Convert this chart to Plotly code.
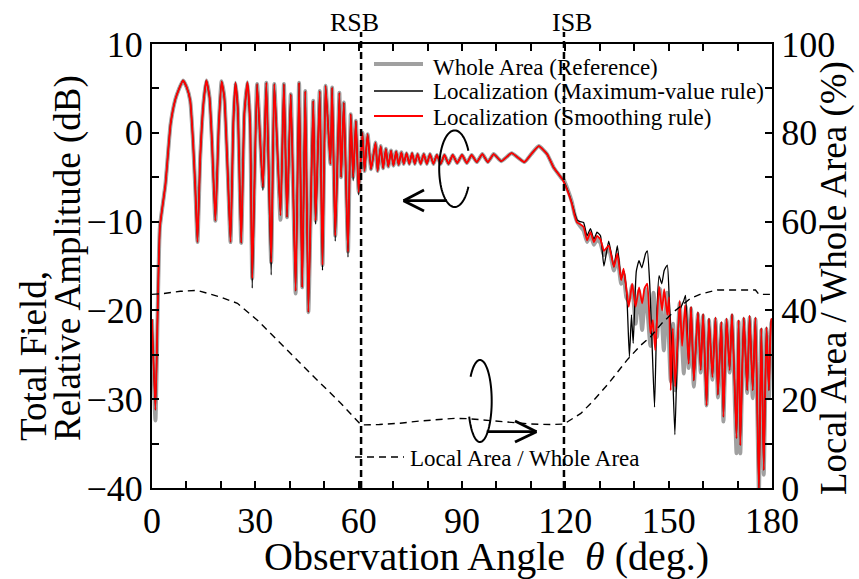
import numpy as np
import plotly.graph_objects as go

# ---------------- data ----------------
# common part of the total-field curves (0 .. ~119 deg), smoothing rule
theta_head = [0, 1.0, 1.7, 2.3, 3.9, 5.4, 6.8, 7.8, 9.0, 10.1, 11.1, 11.9, 12.6, 13.2,
              14.0, 15.0, 15.8, 16.7, 17.4, 18.4, 19.4, 20.2, 21.0, 22.0, 22.8, 23.6,
              24.2, 24.9, 25.9, 26.8, 27.7, 28.5, 29.1, 30.5, 32.2, 33.2, 34.6, 35.5,
              37.3, 38.3, 39.2, 40.3, 41.7, 42.7, 43.6, 44.5, 45.4, 46.8, 47.5, 48.7,
              49.5, 50.4, 51.8, 52.3, 53.2, 54.4, 54.9, 55.7, 56.9, 57.7, 58.4, 59.2,
              60.0, 61.1, 61.7, 62.6, 63.6, 64.9, 65.5, 66.4, 67.1, 67.9, 68.6, 69.4,
              70.1, 70.9, 71.6, 72.4, 73.1, 73.9, 74.7, 75.5, 76.3, 77.1, 78.0, 78.9,
              79.8, 80.7, 81.7, 82.7, 83.8, 84.9, 86.1, 87.3, 88.6, 90.0, 91.4, 92.8,
              94.3, 95.9, 97.5, 99.2, 101.4, 104.4, 108.1, 110.1, 112.3, 114.7, 116.6,
              119.1]
db_head = [-21.0, -31.2, -19.0, -10.6, -5.8, 1.0, 3.8, 4.9, 5.9, 5.1, 3.6, -0.9, -6.5, -12.3,
           -2.8, 3.6, 5.9, 4.0, -0.9, -9.9, 1.0, 5.8, 4.0, -4.6, -12.3, 1.0,
           5.65, 2.8, -12.4, 2.1, 5.7, 1.0, -16.4, 5.5, -6.1, 5.65, -14.6, 5.5,
           -9.3, 5.5, -9.5, 4.35, -17.8, 5.65, -17.4, 4.7, -20.2, 3.6, -9.9, 4.7,
           -14.9, 5.3, -3.5, 5.1, -11.6, 4.5, -5.0, 3.4, -13.4, 2.1, -5.0, 1.35,
           -6.7, 0.0, -4.3, -0.15, -4.1, -1.1, -4.3, -1.5, -4.0, -1.8, -3.8, -2.0,
           -3.7, -2.1, -3.6, -2.2, -3.5, -2.3, -3.5, -2.3, -3.5, -2.4, -3.5, -2.4,
           -3.5, -2.4, -3.5, -2.5, -3.5, -2.5, -3.5, -2.5, -3.4, -2.5, -3.4, -2.5,
           -3.3, -2.4, -3.3, -2.4, -3.2, -2.3, -3.3, -2.4, -1.5, -2.4, -3.9,
           -5.2]
# nulls where the other two curves differ from the smoothing-rule curve
ref_head_nulls = {1.0: -32.4, 37.3: -9.8, 41.7: -18.1}
max_head_nulls = {29.1: -17.5, 32.2: -6.5, 34.6: -16.0, 47.5: -10.3, 49.5: -15.5,
                  53.2: -12.2, 56.9: -14.0, 58.4: -5.4, 60.0: -7.0}

# lit region beyond the ISB: Localization (Smoothing rule)
theta_tail_smooth = [119.5, 120.7, 121.9, 122.7, 123.4, 124.3, 125.3, 126.3, 127.3, 128.3,
                     129.2, 130.2, 131.2, 132.6, 134.1, 135.1, 136.2, 136.9, 137.7, 138.4,
                     139.4, 140.4, 141.4, 142.3, 143.0, 143.8, 144.7, 145.4, 146.1, 147.2,
                     148.1, 148.7, 149.6, 150.1, 150.6, 151.2, 151.9, 153.2, 153.9, 154.8,
                     155.8, 156.5, 157.3, 158.5, 159.3, 160.0, 161.0, 161.7, 162.7, 163.6,
                     164.3, 165.3, 165.9, 166.8, 167.7, 168.4, 169.7, 170.3, 170.8, 171.8,
                     172.8, 173.5, 174.4, 175.2, 176.2, 176.9, 177.6, 178.4, 179.1, 179.8,
                     180.0]
db_tail_smooth = [-5.5, -6.6, -8.0, -9.3, -10.1, -10.3, -10.6, -12.1, -11.2, -12.3,
                  -11.6, -12.0, -13.3, -12.7, -15.1, -13.6, -16.6, -15.3, -17.5, -19.6,
                  -17.0, -19.6, -17.4, -19.2, -17.5, -17.0, -22.6, -21.1, -24.5, -17.3,
                  -20.0, -17.6, -20.5, -18.5, -29.0, -22.0, -28.6, -18.9, -24.0, -19.4,
                  -26.0, -19.6, -27.9, -20.2, -26.7, -20.4, -30.7, -20.9, -27.5, -20.8,
                  -29.5, -21.3, -32.0, -20.9, -26.7, -20.4, -34.4, -21.1, -35.2, -20.8,
                  -29.0, -20.6, -29.0, -20.8, -40.5, -22.0, -38.0, -21.9, -29.0, -21.0,
                  -21.0]

# Whole Area (Reference)
theta_tail_ref = [119.5, 120.7, 121.9, 122.7, 123.4, 124.3, 125.3, 126.3, 127.3, 128.3,
                  129.2, 130.2, 131.2, 132.6, 134.1, 135.1, 136.2, 136.9, 137.7, 138.4,
                  139.4, 140.4, 141.4, 142.3, 143.3, 144.7, 145.6, 146.6, 147.5, 148.6,
                  149.5, 150.6, 151.3, 151.9, 153.2, 154.4, 155.0, 155.8, 156.5, 157.3,
                  158.5, 159.3, 160.0, 161.0, 161.7, 162.7, 163.6, 164.3, 165.3, 165.9,
                  166.8, 167.7, 168.4, 169.7, 170.3, 170.8, 171.8, 172.8, 173.5, 174.4,
                  175.2, 176.2, 176.9, 177.6, 178.4, 179.1, 179.8, 180.0]
db_tail_ref = [-5.3, -6.4, -7.8, -9.2, -10.0, -10.5, -11.0, -12.3, -11.5, -12.6,
               -12.0, -12.4, -13.8, -13.0, -15.5, -14.0, -17.0, -15.8, -18.5, -19.0,
               -17.2, -21.5, -17.8, -22.2, -17.6, -24.0, -18.0, -23.0, -17.6, -24.5,
               -18.0, -28.0, -21.5, -29.0, -19.2, -27.1, -19.6, -26.5, -19.8, -28.6,
               -20.4, -27.0, -20.6, -30.7, -21.1, -27.8, -21.0, -29.8, -21.5, -32.5,
               -21.1, -27.0, -20.6, -36.1, -21.3, -36.1, -21.0, -29.3, -20.8, -29.9,
               -21.0, -40.5, -22.2, -38.5, -22.1, -29.9, -21.5, -21.2]

# Localization (Maximum-value rule), where it departs from the smoothing rule
theta_tail_max = [119.5, 120.7, 121.9, 122.7, 123.4, 124.3, 125.3, 126.3, 127.3, 128.3,
                  129.2, 130.2, 131.2, 132.6, 134.1, 135.1, 136.2, 136.9, 137.8, 138.6,
                  139.2, 139.7, 140.6, 141.4, 142.2, 143.3, 143.8, 144.5, 145.2, 145.9,
                  146.6, 147.2, 148.0, 148.7, 149.6, 150.2, 150.9, 151.8, 152.5, 153.2,
                  154.3, 154.9, 155.8]
db_tail_max = [-5.4, -6.5, -7.9, -9.0, -9.8, -10.0, -10.1, -11.6, -10.8, -12.0,
               -11.2, -11.6, -15.0, -12.2, -15.1, -12.7, -16.5, -15.5, -18.0, -25.2,
               -20.5, -23.7, -15.6, -14.4, -15.2, -13.6, -13.3, -17.0, -24.0, -30.9,
               -20.0, -16.1, -17.0, -15.5, -14.9, -19.0, -24.0, -34.0, -25.0, -20.0,
               -19.0, -18.3, -26.0]

# Local Area / Whole Area (%)
theta_area = [0, 3.3, 8.2, 13.2, 19.9, 24.8, 30.6, 38.3, 46.0, 54.8, 60.7, 66, 72, 78,
              84, 88, 92, 98, 104, 110, 116, 119.6, 124.5, 128.3, 132.5, 137.9, 141.8,
              144.7, 147.9, 151.5, 156.3, 159.3, 164.1, 170.8, 175.2, 176.2, 180]
area_pct = [43.6, 43.8, 44.3, 44.5, 43.0, 41.6, 37.8, 31.7, 25.8, 19.1, 14.2, 14.3, 14.6, 15.1,
            15.5, 15.7, 15.6, 15.2, 14.8, 14.4, 14.3, 14.4, 16.8, 19.8, 23.5, 28.8, 32.1,
            34.0, 37.0, 39.7, 42.7, 43.7, 44.6, 44.6, 44.6, 43.6, 43.6]

boundary_angles = [60.7, 119.6]
boundary_labels = ["RSB", "ISB"]
boundary_label_shift = [-1.9, 2.2]

x_ticks = [0, 30, 60, 90, 120, 150, 180]
y_ticks = [-40, -30, -20, -10, 0, 10]
y2_ticks = [0, 20, 40, 60, 80, 100]

series_names = ["Whole Area (Reference)", "Localization (Maximum-value rule)",
                "Localization (Smoothing rule)"]

# ---------------- assemble series ----------------
theta_smooth = theta_head + theta_tail_smooth
db_smooth = db_head + db_tail_smooth

theta_ref = theta_head + theta_tail_ref
db_ref = [ref_head_nulls.get(t, v) for t, v in zip(theta_head, db_head)] + db_tail_ref

last_max = theta_tail_max[-1]
theta_max = theta_head + theta_tail_max + [t for t in theta_tail_smooth if t > last_max]
db_max = ([max_head_nulls.get(t, v) for t, v in zip(theta_head, db_head)] + db_tail_max
          + [v for t, v in zip(theta_tail_smooth, db_tail_smooth) if t > last_max])

# ---------------- figure ----------------
FONT = "Liberation Serif"
W, H = 859, 579
L, R, T, B = 152, 772, 44, 488


def pp(px, py):
    """pixel -> paper coords (for decorations only)"""
    return (px - L) / (R - L), (B - py) / (B - T)


SM = 0.45
fig = go.Figure()
fig.add_trace(go.Scatter(x=theta_ref, y=db_ref, mode="lines", name=series_names[0],
                         line=dict(color="#a0a0a0", width=4, shape="spline", smoothing=SM),
                         showlegend=False))
fig.add_trace(go.Scatter(x=theta_max, y=db_max, mode="lines", name=series_names[1],
                         line=dict(color="black", width=1.3, shape="spline", smoothing=SM),
                         showlegend=False))
fig.add_trace(go.Scatter(x=theta_smooth, y=db_smooth, mode="lines", name=series_names[2],
                         line=dict(color="#ff0000", width=1.8, shape="spline", smoothing=SM),
                         showlegend=False))
fig.add_trace(go.Scatter(x=theta_area, y=area_pct, mode="lines", yaxis="y2",
                         name="Local Area / Whole Area",
                         line=dict(color="black", width=1.4, dash="7px,5px"),
                         showlegend=False))

shapes = []
annotations = []

# boundary lines
for ang, lab, dx in zip(boundary_angles, boundary_labels, boundary_label_shift):
    shapes.append(dict(type="line", xref="x", yref="paper", x0=ang, x1=ang,
                       y0=0, y1=(B - 32) / (B - T),
                       line=dict(color="black", width=2.5, dash="7px,4px")))
    annotations.append(dict(text=lab, xref="x", yref="paper", x=ang + dx,
                            y=(B - 22) / (B - T), showarrow=False,
                            xanchor="center", yanchor="middle",
                            font=dict(family=FONT, size=26, color="black")))

# manual legend
leg_rows = [(64, 67, "#a0a0a0", 4, "solid"), (91, 91, "black", 1.5, "solid"),
            (116, 117, "#ff0000", 1.8, "solid")]
for (ly, ty, col, w, d), name in zip(leg_rows, series_names):
    x0, y0 = pp(374, ly)
    x1, _ = pp(423, ly)
    shapes.append(dict(type="line", xref="paper", yref="paper", x0=x0, x1=x1,
                       y0=y0, y1=y0, line=dict(color=col, width=w)))
    tx, tyy = pp(431, ty)
    annotations.append(dict(text=name, xref="paper", yref="paper", x=tx, y=tyy,
                            showarrow=False, xanchor="left", yanchor="middle",
                            font=dict(family=FONT, size=23, color="black")))
x0, y0 = pp(355, 457)
x1, _ = pp(404, 457)
shapes.append(dict(type="line", xref="paper", yref="paper", x0=x0, x1=x1, y0=y0, y1=y0,
                   line=dict(color="black", width=1.4, dash="7px,5px")))
tx, tyy = pp(408, 458)
annotations.append(dict(text="Local Area / Whole Area", xref="paper", yref="paper",
                        x=tx, y=tyy, showarrow=False, xanchor="left", yanchor="middle",
                        font=dict(family=FONT, size=23, color="black")))


# ring + arrow decorations
def ring(cx, cy, rx, ry, t0, t1):
    ts = np.radians(np.linspace(t0, t1, 80))
    pts = [pp(cx + rx * np.cos(t), cy - ry * np.sin(t)) for t in ts]
    return "M " + " L ".join(f"{a:.5f},{b:.5f}" for a, b in pts)


shapes.append(dict(type="path", xref="paper", yref="paper",
                   path=ring(454.7, 168.7, 15.5, 38.3, 28, 332),
                   line=dict(color="black", width=2)))
shapes.append(dict(type="path", xref="paper", yref="paper",
                   path=ring(480, 401, 11.7, 41, 202.5, 503.6),
                   line=dict(color="black", width=2)))


def seg(a, b, w=2.8):
    (xa, ya), (xb, yb) = pp(*a), pp(*b)
    shapes.append(dict(type="line", xref="paper", yref="paper", x0=xa, y0=ya, x1=xb, y1=yb,
                       line=dict(color="black", width=w)))


seg((446.7, 200.7), (403.5, 200.7))
seg((403.5, 200.7), (424, 190))
seg((403.5, 200.7), (424, 211))
seg((486.7, 431.7), (536.5, 431.7))
seg((536.5, 431.7), (515, 421))
seg((536.5, 431.7), (515, 442))

# axis titles
x_, y_ = pp(486, 556)
annotations.append(dict(text="Observation Angle  <i>θ</i> (deg.)", xref="paper",
                        yref="paper", x=x_, y=y_, showarrow=False, xanchor="center",
                        yanchor="middle",
                        font=dict(family=FONT, size=40, color="black")))
title_font = dict(family=FONT, size=37, color="black")
x_, y_ = pp(33, 443)
annotations.append(dict(text="Total Field,", xref="paper", yref="paper", x=x_, y=y_,
                        showarrow=False, textangle=-90, xanchor="center",
                        yanchor="bottom", font=title_font))
x_, y_ = pp(68, 443)
annotations.append(dict(text="Relative Amplitude (dB)", xref="paper", yref="paper",
                        x=x_, y=y_, showarrow=False, textangle=-90, xanchor="center",
                        yanchor="bottom", font=title_font))
x_, y_ = pp(834, 278)
annotations.append(dict(text="Local Area / Whole Area (%)", xref="paper", yref="paper",
                        x=x_, y=y_, showarrow=False, textangle=-90,
                        xanchor="center", yanchor="middle",
                        font=dict(family=FONT, size=37, color="black")))

tick_font = dict(family=FONT, size=36, color="black")
fig.update_layout(
    width=W, height=H,
    margin=dict(l=L, r=W - R, t=T, b=H - B, pad=0),
    paper_bgcolor="white", plot_bgcolor="white",
    showlegend=False,
    xaxis=dict(range=[0, 180], tickvals=x_ticks, ticks="inside", ticklen=7, tickwidth=1.5,
               tickcolor="black", showline=True, linewidth=2, linecolor="black",
               mirror="ticks", showgrid=False, zeroline=False, tickfont=tick_font,
               minor=dict(dtick=10, tick0=0, ticks="inside", ticklen=7, tickwidth=1.5,
                          tickcolor="black", showgrid=False)),
    yaxis=dict(range=[-40, 10], tickvals=y_ticks, ticks="inside", ticklen=7, tickwidth=1.5,
               tickcolor="black", showline=True, linewidth=2, linecolor="black",
               showgrid=False, zeroline=False, tickfont=tick_font,
               minor=dict(dtick=5, tick0=-40, ticks="inside", ticklen=7, tickwidth=1.5,
                          tickcolor="black", showgrid=False)),
    yaxis2=dict(range=[0, 100], tickvals=y2_ticks, overlaying="y", side="right", anchor="x",
                ticks="inside", ticklen=7, tickwidth=1.5, tickcolor="black",
                showline=True, linewidth=2, linecolor="black", showgrid=False,
                zeroline=False, tickfont=tick_font,
                minor=dict(dtick=10, tick0=0, ticks="inside", ticklen=7, tickwidth=1.5,
                           tickcolor="black", showgrid=False)),
    shapes=shapes,
    annotations=annotations,
)

fig.write_html("out.html", config={"displayModeBar": False},
               post_script="document.body.style.margin='0px';"
                           "document.body.style.overflow='hidden';")
